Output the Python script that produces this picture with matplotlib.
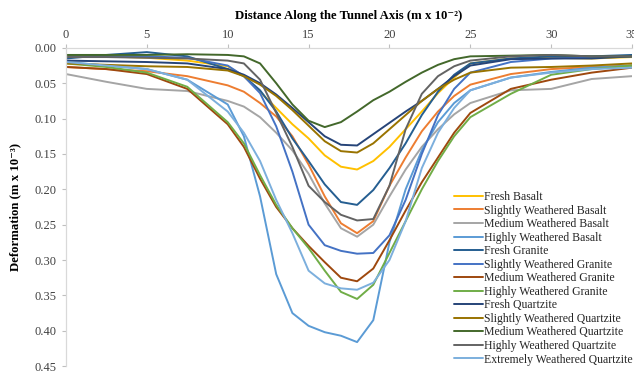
import matplotlib
matplotlib.use('Agg')
import matplotlib.pyplot as plt

# distance along tunnel axis (m x 10^-2)
x_dist = [0, 2.5, 5, 7.5, 10, 11, 12, 13, 14, 15, 16, 17, 18, 19, 20, 21, 22, 23, 24, 25, 27.5, 30, 32.5, 35]

# deformation (m x 10^-3)
fresh_basalt = [0.010, 0.012, 0.014, 0.018, 0.026, 0.040, 0.062, 0.085, 0.108, 0.128, 0.152, 0.168, 0.172, 0.160, 0.140, 0.115, 0.090, 0.064, 0.042, 0.022, 0.015, 0.014, 0.015, 0.013]
slightly_basalt = [0.027, 0.030, 0.033, 0.040, 0.053, 0.062, 0.078, 0.097, 0.125, 0.165, 0.210, 0.248, 0.262, 0.245, 0.195, 0.155, 0.118, 0.090, 0.068, 0.052, 0.037, 0.030, 0.027, 0.025]
medium_basalt = [0.037, 0.048, 0.058, 0.061, 0.075, 0.083, 0.098, 0.120, 0.145, 0.178, 0.220, 0.255, 0.267, 0.250, 0.210, 0.172, 0.140, 0.115, 0.094, 0.078, 0.060, 0.058, 0.044, 0.040]
highly_basalt = [0.020, 0.025, 0.030, 0.045, 0.080, 0.125, 0.210, 0.320, 0.375, 0.393, 0.402, 0.407, 0.416, 0.385, 0.275, 0.200, 0.145, 0.105, 0.078, 0.060, 0.042, 0.034, 0.028, 0.025]
fresh_granite = [0.015, 0.010, 0.006, 0.012, 0.030, 0.040, 0.060, 0.090, 0.128, 0.160, 0.193, 0.218, 0.222, 0.201, 0.170, 0.135, 0.095, 0.062, 0.038, 0.022, 0.015, 0.012, 0.012, 0.010]
slightly_granite = [0.012, 0.012, 0.012, 0.014, 0.025, 0.040, 0.064, 0.111, 0.175, 0.250, 0.279, 0.287, 0.291, 0.290, 0.265, 0.215, 0.150, 0.095, 0.058, 0.035, 0.020, 0.015, 0.013, 0.012]
medium_granite = [0.027, 0.030, 0.037, 0.058, 0.108, 0.140, 0.185, 0.225, 0.255, 0.280, 0.303, 0.325, 0.330, 0.312, 0.272, 0.230, 0.190, 0.155, 0.120, 0.092, 0.058, 0.045, 0.035, 0.028]
highly_granite = [0.022, 0.027, 0.035, 0.055, 0.105, 0.135, 0.180, 0.222, 0.255, 0.283, 0.315, 0.345, 0.355, 0.335, 0.290, 0.245, 0.200, 0.160, 0.125, 0.098, 0.065, 0.038, 0.030, 0.025]
fresh_quartzite = [0.018, 0.019, 0.020, 0.022, 0.030, 0.038, 0.050, 0.066, 0.085, 0.105, 0.125, 0.137, 0.138, 0.122, 0.106, 0.090, 0.075, 0.058, 0.040, 0.025, 0.016, 0.015, 0.015, 0.012]
slightly_quartzite = [0.022, 0.024, 0.026, 0.027, 0.032, 0.040, 0.052, 0.068, 0.088, 0.110, 0.132, 0.146, 0.148, 0.135, 0.115, 0.095, 0.075, 0.058, 0.045, 0.035, 0.028, 0.027, 0.025, 0.022]
medium_quartzite = [0.010, 0.010, 0.010, 0.009, 0.010, 0.012, 0.022, 0.050, 0.080, 0.103, 0.112, 0.105, 0.090, 0.074, 0.062, 0.048, 0.035, 0.024, 0.016, 0.012, 0.011, 0.010, 0.012, 0.012]
highly_quartzite = [0.013, 0.013, 0.014, 0.015, 0.018, 0.022, 0.045, 0.092, 0.140, 0.195, 0.218, 0.236, 0.244, 0.242, 0.195, 0.115, 0.065, 0.040, 0.026, 0.018, 0.012, 0.010, 0.012, 0.012]
extremely_quartzite = [0.020, 0.025, 0.030, 0.045, 0.090, 0.120, 0.160, 0.215, 0.262, 0.315, 0.333, 0.340, 0.342, 0.332, 0.300, 0.245, 0.170, 0.120, 0.085, 0.060, 0.042, 0.035, 0.030, 0.028]

series = [fresh_basalt, slightly_basalt, medium_basalt, highly_basalt,
          fresh_granite, slightly_granite, medium_granite, highly_granite,
          fresh_quartzite, slightly_quartzite, medium_quartzite,
          highly_quartzite, extremely_quartzite]
labels = ['Fresh Basalt', 'Slightly Weathered Basalt', 'Medium Weathered Basalt',
          'Highly Weathered Basalt', 'Fresh Granite', 'Slightly Weathered Granite',
          'Medium Weathered Granite', 'Highly Weathered Granite', 'Fresh Quartzite',
          'Slightly Weathered Quartzite', 'Medium Weathered Quartzite',
          'Highly Weathered Quartzite', 'Extremely Weathered Quartzite']
colors = ['#FFC000', '#ED7D31', '#A5A5A5', '#5B9BD5', '#255E91', '#4472C4',
          '#9E480E', '#70AD47', '#264478', '#997300', '#43682B', '#636363', '#7CAFDD']

plt.rcParams['font.family'] = ['Liberation Serif', 'DejaVu Serif']

fig = plt.figure(figsize=(6.34, 3.74), dpi=100)
ax = fig.add_axes([0.104, 0.021, 0.893, 0.851])

for ys, lab, c in zip(series, labels, colors):
    ax.plot(x_dist, ys, color=c, lw=1.4, label=lab, solid_capstyle='round')

ax.set_xlim(0, 35)
ax.set_ylim(0.45, 0.0)
ax.set_xticks(range(0, 36, 5))
ax.set_yticks([i * 0.05 for i in range(10)])
ax.set_yticklabels([f'{i * 0.05:.2f}' for i in range(10)])
ax.xaxis.tick_top()
ax.xaxis.set_label_position('top')
ax.tick_params(axis='both', labelsize=9, color='#BFBFBF', length=3, width=0.8,
               labelcolor='#404040')
ax.tick_params(axis='x', pad=2)

for side in ['right', 'bottom']:
    ax.spines[side].set_visible(False)
for side in ['left', 'top']:
    ax.spines[side].set_color('#D9D9D9')
    ax.spines[side].set_linewidth(0.9)

ax.set_xlabel('Distance Along the Tunnel Axis (m x 10\u207b\u00b2)', fontsize=9.2,
              fontweight='bold', labelpad=7)
ax.set_ylabel('Deformation (m x 10\u207b\u00b3)', fontsize=9.2, fontweight='bold', labelpad=10)

leg = ax.legend(loc='upper left', bbox_to_anchor=(0.685, 0.55), frameon=False,
                fontsize=8.5, handlelength=2.5, handletextpad=0.1,
                labelspacing=0.13, borderaxespad=0, borderpad=0)
for t in leg.get_texts():
    t.set_color('#262626')

fig.savefig('out.png', dpi=100)
